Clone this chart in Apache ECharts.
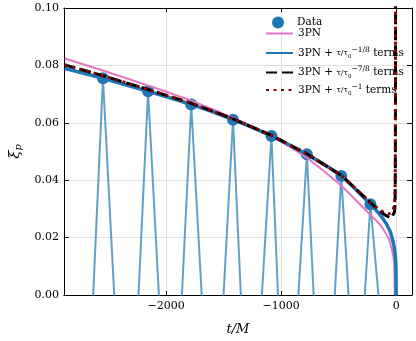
<!DOCTYPE html>
<html>
<head>
<meta charset="utf-8">
<script src="https://cdn.jsdelivr.net/npm/echarts@6/dist/echarts.min.js"></script>
<style>
  html, body { margin: 0; padding: 0; background: #fff; }
  #chart { width: 416px; height: 341px; }
</style>
</head>
<body>
<div id="chart"></div>
<script>
// oscillating data curve (t/M, xi_p), goes below zero between peaks
const tData = [-2750, -2633, -2548, -2450, -2345, -2239, -2156, -2062, -1960, -1862, -1781, -1690, -1595, -1500, -1418, -1350, -1260, -1167, -1084, -1027, -940, -850, -776, -717, -625, -534, -477, -414, -345, -273, -224, -154, -80, 0]
const xiData = [-0.10, 0, 0.0755, 0, -0.12, 0, 0.0710, 0, -0.12, 0, 0.0664, 0, -0.12, 0, 0.0611, 0, -0.12, 0, 0.0554, 0, -0.12, 0, 0.0490, 0, -0.12, 0, 0.0415, 0, -0.12, 0, 0.0316, 0, -0.12, 0.002]

// peaks marked with dots
const tPeak = [-2548, -2156, -1781, -1418, -1084, -776, -477, -224]
const xiPeak = [0.0755, 0.0710, 0.0664, 0.0611, 0.0554, 0.0490, 0.0415, 0.0316]

// 3PN
const tPN = [-2880, -2548, -2156, -1781, -1418, -1084, -776, -477, -224, -150, -101, -60, -42, -25, -18, -15, -13.5, -13]
const xiPN = [0.0824, 0.0782, 0.0730, 0.0677, 0.0617, 0.0554, 0.0478, 0.0381, 0.0279, 0.0250, 0.0222, 0.0192, 0.0165, 0.0136, 0.0111, 0.0087, 0.0055, 0]

// 3PN + (tau/tau0)^(-1/8) terms
const tM18 = [-2880, -2548, -2156, -1781, -1418, -1084, -776, -477, -224, -120, -56, -25, -14, -6, -2, 0]
const xiM18 = [0.0789, 0.0755, 0.0710, 0.0664, 0.0611, 0.0554, 0.0490, 0.0415, 0.0316, 0.0269, 0.0225, 0.0182, 0.0158, 0.0128, 0.0097, 0]

// 3PN + (tau/tau0)^(-7/8) terms
const tM78 = [-2880, -2548, -2156, -1781, -1418, -1084, -776, -477, -224, -150, -98, -60, -42, -25, -14, -10, -8, -7, -6, -5.5, -5]
const xiM78 = [0.0802, 0.0764, 0.0716, 0.0668, 0.0614, 0.0556, 0.0492, 0.0417, 0.0322, 0.0296, 0.0279, 0.0271, 0.0268, 0.0271, 0.0290, 0.0320, 0.0380, 0.0480, 0.0700, 0.0900, 0.1200]

// 3PN + (tau/tau0)^(-1) terms
const tM1 = [-2880, -2548, -2156, -1781, -1418, -1084, -776, -477, -224, -150, -100, -70, -45, -25, -14, -10, -8, -7, -6.5, -6, -5.5]
const xiM1 = [0.0802, 0.0764, 0.0716, 0.0668, 0.0614, 0.0556, 0.0492, 0.0417, 0.0323, 0.0298, 0.0286, 0.0282, 0.0286, 0.0298, 0.0322, 0.0360, 0.0450, 0.0560, 0.0680, 0.0850, 0.1200]

const yTicks = [0, 0.02, 0.04, 0.06, 0.08, 0.10]

const FONT = 'DejaVu Serif'
const pairs = (xs, ys) => xs.map((x, i) => [x, ys[i]])

const legendRich = {
  n: { fontFamily: FONT, fontSize: 10.5, color: '#000', lineHeight: 14 },
  d: { fontFamily: FONT, fontSize: 10.5, color: '#000', lineHeight: 14, padding: [0, 0, 0, 8] },
  f: { fontFamily: FONT, fontSize: 8, color: '#000', lineHeight: 9, verticalAlign: 'middle' },
  z: { fontFamily: FONT, fontSize: 5.5, color: '#000', lineHeight: 6, verticalAlign: 'bottom' },
  s: { fontFamily: FONT, fontSize: 7.5, color: '#000', lineHeight: 8, verticalAlign: 'top' }
}

function makeLegend (name, top, label, isLine) {
  const lg = {
    data: [name],
    left: 265,
    top: top,
    padding: 0,
    itemWidth: 27,
    itemHeight: 12,
    selectedMode: false,
    formatter: () => label,
    textStyle: { rich: legendRich }
  }
  if (isLine) {
    // hide the symbol drawn in the middle of the line handle
    lg.itemStyle = { opacity: 0 }
  } else {
    // marker handle: circle centred in the handle slot
    lg.left = 272
    lg.itemWidth = 12
  }
  return lg
}

const xMin = -2887.5
const xMax = 137.5

const xLabel = v => {
  if (Math.abs(v % 1000) > 1e-6) return ''
  return v < 0 ? '\u2212' + (-v) : String(v)
}

const chart = echarts.init(document.getElementById('chart'))

chart.setOption({
  animation: false,
  backgroundColor: '#fff',
  grid: { left: 53, right: 4, top: 8, bottom: 39, containLabel: false },
  legend: [
    makeLegend('Data', 16.5, '{d|Data}', false),
    makeLegend('3PN', 28, '{n|3PN}', true),
    makeLegend('m18', 46, '{n|3PN + }{f|τ/τ}{z|0}{s|−1/8}{n| terms}', true),
    makeLegend('m78', 65.5, '{n|3PN + }{f|τ/τ}{z|0}{s|−7/8}{n| terms}', true),
    makeLegend('m1', 83, '{n|3PN + }{f|τ/τ}{z|0}{s|−1}{n| terms}', true)
  ],
  xAxis: [
    {
      type: 'value',
      min: xMin,
      max: xMax,
      splitNumber: 3,
      position: 'bottom',
      axisLine: { onZero: false, lineStyle: { color: '#000', width: 1 } },
      axisTick: { inside: true, length: 4, lineStyle: { color: '#000' } },
      axisLabel: { formatter: xLabel, fontFamily: FONT, fontSize: 11, color: '#000', margin: 6 },
      splitLine: { show: true, lineStyle: { color: '#e0e0e0', width: 1 } },
      name: 't/M',
      nameLocation: 'middle',
      nameGap: 28,
      nameTextStyle: { fontFamily: FONT, fontStyle: 'italic', fontSize: 13, color: '#000' }
    },
    {
      type: 'value',
      min: xMin,
      max: xMax,
      splitNumber: 3,
      position: 'top',
      axisLine: { onZero: false, lineStyle: { color: '#000', width: 1 } },
      axisTick: { inside: true, length: 4, lineStyle: { color: '#000' } },
      axisLabel: { show: false },
      splitLine: { show: false }
    }
  ],
  yAxis: [
    {
      type: 'value',
      min: yTicks[0],
      max: yTicks[yTicks.length - 1],
      interval: 0.02,
      position: 'left',
      axisLine: { onZero: false, lineStyle: { color: '#000', width: 1 } },
      axisTick: { inside: true, length: 5, lineStyle: { color: '#000' } },
      axisLabel: { formatter: v => v.toFixed(2), fontFamily: FONT, fontSize: 11, color: '#000', margin: 5 },
      splitLine: { show: true, lineStyle: { color: '#e0e0e0', width: 1 } },
      name: '{a|ξ}{b|p}',
      nameLocation: 'middle',
      nameRotate: 90,
      nameGap: 39,
      nameTextStyle: {
        rich: {
          a: { fontFamily: FONT, fontStyle: 'italic', fontSize: 15, color: '#000' },
          b: { fontFamily: FONT, fontStyle: 'italic', fontSize: 10, color: '#000', verticalAlign: 'bottom', padding: [6, 0, 0, 0] }
        }
      }
    },
    {
      type: 'value',
      min: yTicks[0],
      max: yTicks[yTicks.length - 1],
      interval: 0.02,
      position: 'right',
      axisLine: { onZero: false, lineStyle: { color: '#000', width: 1 } },
      axisTick: { inside: true, length: 5, lineStyle: { color: '#000' } },
      axisLabel: { show: false },
      splitLine: { show: false }
    }
  ],
  series: [
    {
      name: 'raw',
      type: 'line',
      data: pairs(tData, xiData),
      symbol: 'none',
      clip: true,
      lineStyle: { color: '#1f77b4', width: 2, opacity: 0.7 },
      z: 1
    },
    {
      name: 'Data',
      type: 'scatter',
      data: pairs(tPeak, xiPeak),
      symbolSize: 12,
      itemStyle: { color: '#1f77b4', opacity: 1 },
      z: 2
    },
    {
      name: '3PN',
      type: 'line',
      data: pairs(tPN, xiPN),
      symbol: 'none',
      smooth: 0.2,
      clip: true,
      itemStyle: { color: '#e377c2' },
      lineStyle: { color: '#e377c2', width: 2 },
      z: 3
    },
    {
      name: 'm18',
      type: 'line',
      data: pairs(tM18, xiM18),
      symbol: 'none',
      smooth: 0.2,
      clip: true,
      itemStyle: { color: '#1f77b4' },
      lineStyle: { color: '#1f77b4', width: 3.5 },
      z: 4
    },
    {
      name: 'm78',
      type: 'line',
      data: pairs(tM78, xiM78),
      symbol: 'none',
      clip: true,
      itemStyle: { color: '#000' },
      lineStyle: { color: '#000', width: 3, type: [11, 5] },
      z: 5
    },
    {
      name: 'm1',
      type: 'line',
      data: pairs(tM1, xiM1),
      symbol: 'none',
      clip: true,
      itemStyle: { color: '#8b0000' },
      lineStyle: { color: '#8b0000', width: 3, type: [3, 4.5] },
      z: 6
    }
  ]
})
</script>
</body>
</html>
